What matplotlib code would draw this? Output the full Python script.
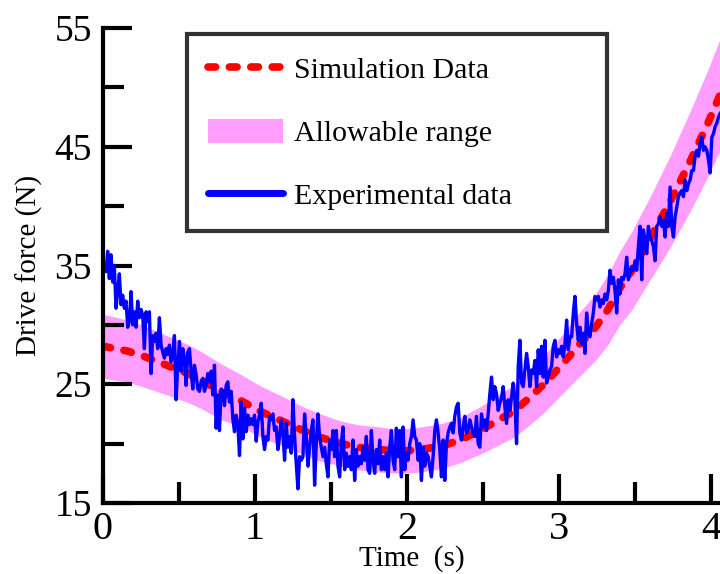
import numpy as np
import matplotlib
matplotlib.use("Agg")
import matplotlib.pyplot as plt
from matplotlib.lines import Line2D
from matplotlib.patches import Patch

plt.rcParams['font.family'] = ['Liberation Serif', 'DejaVu Serif']

# Simulation curve (time s, force N)
sim_time = [0.0, 0.16, 0.26, 0.42, 0.55, 0.64, 0.78, 0.91, 1.03, 1.16, 1.30, 1.41,
            1.54, 1.67, 1.82, 1.95, 2.09, 2.23, 2.35, 2.48, 2.59, 2.70, 2.80, 2.90,
            3.03, 3.13, 3.24, 3.32, 3.40, 3.48, 3.60, 3.73, 3.86, 3.98, 4.06]
sim_force = [28.2, 27.8, 27.4, 26.6, 25.95, 25.4, 24.35, 23.6, 22.75, 22.0, 21.2, 20.6,
             20.1, 19.7, 19.5, 19.35, 19.5, 19.8, 20.3, 21.1, 21.9, 22.7, 23.8, 25.0,
             26.8, 28.3, 29.8, 31.25, 33.1, 34.6, 37.3, 40.35, 43.7, 47.0, 49.4]
band_upper = [30.9, 30.4, 30.0, 29.1, 28.4, 27.8, 26.7, 25.8, 24.9, 24.1, 23.2, 22.6,
              22.0, 21.6, 21.4, 21.2, 21.4, 21.7, 22.2, 23.1, 24.0, 24.9, 26.1, 27.4,
              29.3, 31.0, 32.6, 34.2, 36.2, 37.9, 40.8, 44.2, 47.9, 51.5, 54.1]
band_lower = [25.5, 25.2, 24.8, 24.1, 23.5, 23.0, 22.0, 21.4, 20.6, 19.9, 19.2, 18.6,
              18.2, 17.8, 17.6, 17.5, 17.6, 17.9, 18.4, 19.1, 19.8, 20.5, 21.5, 22.6,
              24.3, 25.6, 27.0, 28.3, 30.0, 31.3, 33.8, 36.5, 39.5, 42.5, 44.7]

# Experimental data (uniformly sampled from 0.02 to 4.06 s)
exp_force = [
    34.5, 36.2, 33.9, 35.9, 33.6, 35.0, 31.4, 32.8, 34.3, 31.7, 32.5, 31.4, 32.0, 29.8, 30.3,
    32.8, 30.0, 31.1, 29.8, 32.0, 30.6, 31.3, 30.8, 28.0, 31.1, 30.3, 31.1, 25.9, 29.1, 28.6,
    29.3, 28.0, 30.6, 28.3, 27.7, 27.2, 28.0, 27.5, 28.3, 26.9, 27.5, 29.1, 23.7, 26.6, 28.6,
    26.1, 28.0, 27.2, 24.9, 27.7, 28.0, 26.1, 24.6, 26.6, 25.8, 24.6, 24.4, 25.2, 25.5, 24.4,
    24.9, 25.9, 25.2, 26.1, 24.1, 26.6, 21.3, 24.1, 21.1, 24.6, 24.4, 23.2, 24.9, 25.2, 23.5,
    24.4, 22.1, 21.0, 22.4, 21.6, 19.0, 23.5, 20.4, 23.0, 21.0, 22.4, 21.6, 22.1, 21.6, 22.4,
    20.2, 21.8, 22.4,
    23.4, 20.6, 19.5, 20.6, 20.3, 22.3, 22.0, 22.5, 21.1, 21.4, 19.5, 20.6, 22.0, 20.9, 18.6,
    21.7, 19.7, 20.6, 19.2, 23.7, 20.6, 18.3, 16.2, 18.9, 18.6, 18.9, 22.5, 20.6, 18.1, 19.7,
    21.1, 22.0, 16.5, 20.0, 22.5, 20.6, 19.7, 18.9, 19.7, 18.3, 17.2, 20.3, 19.5, 21.1, 18.9,
    21.1, 18.1, 17.2, 20.0, 21.4, 17.8, 19.2, 18.1, 18.9, 17.8, 20.3, 16.9, 19.5, 18.1, 18.9,
    18.3, 19.7, 18.6, 20.6, 17.8, 17.5, 21.1, 18.6, 17.5, 19.5, 18.3, 20.3, 17.8, 18.9, 17.8,
    19.2, 17.2, 19.7, 21.1, 18.6, 17.8, 21.3, 18.9, 21.1, 17.2, 21.4, 17.8, 19.2, 18.6, 20.0,
    20.6, 22.0, 20.6,
    20.3, 18.6, 20.0, 16.9, 19.7, 18.1, 19.2, 18.9, 18.1, 17.2, 18.9, 21.1, 22.0, 20.9, 19.5,
    17.2, 20.3, 16.9, 20.0, 20.9, 21.4, 21.7, 20.9, 22.3, 23.1, 23.4, 20.9, 20.3, 21.4, 22.3,
    20.9, 21.1, 22.0, 21.4, 20.9, 20.6, 22.3, 20.0, 19.7, 22.5, 21.4, 22.0, 21.1, 22.5, 24.2,
    25.6, 23.7, 24.8, 24.2, 22.8, 23.4, 23.9, 24.8, 23.1, 21.7, 23.7, 22.8, 23.9, 25.1, 23.7,
    20.0, 26.5, 28.7, 25.1, 24.8, 26.2, 27.6, 26.5, 24.8, 26.2, 25.9, 27.0, 24.8, 27.9, 25.9,
    28.2, 25.6, 28.7, 25.1, 25.6, 26.2, 26.5, 28.2, 28.7, 27.3, 27.9, 27.6, 28.2, 27.3, 28.4,
    30.4, 27.9, 29.0,
    29.0, 31.0, 32.4, 30.1, 28.7, 29.8, 28.4, 29.3, 27.6, 31.0, 29.3, 29.0, 30.1, 31.0, 32.4,
    32.1, 32.4, 31.5, 32.1, 31.8, 32.6, 32.1, 32.9, 34.6, 33.5, 34.0, 32.9, 31.0, 33.8, 32.6,
    34.0, 33.8, 34.3, 35.7, 33.8, 34.3, 34.9, 34.6, 35.4, 34.6, 36.6, 38.3, 33.8, 38.0, 37.1,
    36.0, 38.3, 37.4, 37.1, 36.6, 35.4, 38.3, 38.5, 39.1, 38.3, 38.8, 37.4, 39.4, 38.3, 41.6,
    38.3, 37.4, 39.1, 39.9, 40.8, 41.1, 41.3, 40.8, 42.2, 41.3, 41.9, 42.2, 43.0, 43.0, 44.2,
    44.7, 44.2, 45.3, 45.8, 44.7, 45.0, 44.7, 43.9, 42.8, 45.8, 46.1, 46.7, 47.0, 47.5, 47.8]
exp_time = np.linspace(0.02, 4.06, len(exp_force))

labels = ["Simulation Data", "Allowable range", "Experimental data"]
x_ticks = [0, 1, 2, 3, 4]
y_ticks = [15, 25, 35, 45, 55]

pink = '#FF9EFF'
dash = (0, (1.0, 1.8))
fig = plt.figure(figsize=(7.2, 5.74), dpi=100)
ax = fig.add_axes([0.143, 0.1237, 0.857, 0.8275])

ax.fill_between(sim_time, band_lower, band_upper, color=pink, lw=0, zorder=1)
ax.plot(sim_time, sim_force, color='#FF0000', lw=5.5, ls=dash,
        dash_capstyle='round', zorder=2)
ax.plot(exp_time, exp_force, color='#0000FF', lw=2.4, zorder=3)

ax.set_xlim(0, 4.059)
ax.set_ylim(15, 55)
ax.set_xticks(x_ticks)
ax.set_yticks(y_ticks)
ax.set_xticks([0.5, 1.5, 2.5, 3.5], minor=True)
ax.set_yticks([20, 30, 40, 50], minor=True)
ax.tick_params(axis='both', which='major', direction='in', length=21, width=3)
ax.tick_params(axis='both', which='minor', direction='in', length=15, width=3)
ax.tick_params(axis='x', which='major', labelsize=29, pad=6)
ax.tick_params(axis='y', which='major', labelsize=27, pad=8)
for s in ['top', 'right']:
    ax.spines[s].set_visible(False)
for s in ['left', 'bottom']:
    ax.spines[s].set_linewidth(3)
    ax.spines[s].set_zorder(5)

ax.set_xlabel("Time  (s)", fontsize=21, labelpad=-2)
ax.set_ylabel("Drive force (N)", fontsize=21, labelpad=8)

handles = [Line2D([], [], color='#FF0000', lw=5.5, ls=dash, dash_capstyle='round'),
           Patch(facecolor=pink, edgecolor='none'),
           Line2D([], [], color='#0000FF', lw=5, solid_capstyle='round')]
leg = ax.legend(handles, labels, loc='upper left', bbox_to_anchor=(0.136, 0.695, 0.681, 0.292),
                mode='expand', borderaxespad=0, fontsize=21.5, frameon=True, fancybox=False,
                handlelength=2.5, handleheight=0.88, handletextpad=0.38,
                labelspacing=1.15, borderpad=0.72)
leg.get_frame().set_edgecolor('black')
leg.get_frame().set_linewidth(3)
leg.set_zorder(10)

fig.savefig("out.png", dpi=100)
